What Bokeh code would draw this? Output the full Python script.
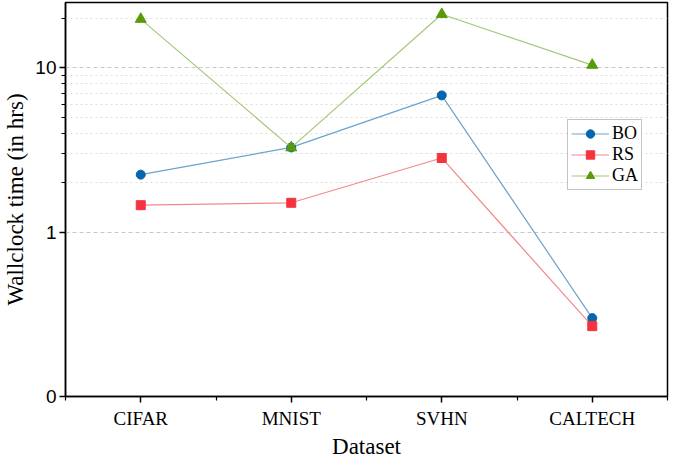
from bokeh.plotting import figure
from bokeh.models import FixedTicker, Range1d, Legend, LegendItem, Title
from bokeh.embed import file_html
from bokeh.resources import INLINE

datasets = ["CIFAR", "MNIST", "SVHN", "CALTECH"]
bo = [2.24, 3.28, 6.8, 0.30]
rs = [1.46, 1.51, 2.83, 0.268]
ga = [19.8, 3.27, 21.2, 10.4]
y_ticks = [0.1, 1, 10]
y_tick_labels = ["0", "1", "10"]
y_minor = [2, 3, 4, 5, 6, 7, 8, 9, 20]

xs = list(range(1, len(datasets) + 1))

p = figure(width=669, height=458, y_axis_type="log", output_backend="svg",
           toolbar_location=None, x_range=Range1d(0.5, 4.5), y_range=Range1d(0.1, 25),
           min_border_left=10, min_border_right=2, min_border_top=2, min_border_bottom=0)

p.background_fill_color = "white"
p.border_fill_color = "white"
p.outline_line_color = "black"
p.outline_line_width = 1.5

# x axis
p.xaxis.ticker = FixedTicker(ticks=xs, minor_ticks=[0.5, 1.5, 2.5, 3.5, 4.5])
p.xaxis.major_label_overrides = {x: d for x, d in zip(xs, datasets)}
p.xgrid.grid_line_color = None

xtitle = Title(text="Dataset", align="center", text_font="Liberation Serif",
               text_font_size="23px", text_font_style="normal", text_color="black",
               standoff=0, offset=0)
p.add_layout(xtitle, "below")

# y axis
p.yaxis.ticker = FixedTicker(ticks=y_ticks, minor_ticks=y_minor)
p.yaxis.major_label_overrides = {t: l for t, l in zip(y_ticks, y_tick_labels)}
p.yaxis.axis_label = "Wallclock time (in hrs)"

for ax in [p.xaxis[0], p.yaxis[0]]:
    ax.axis_line_color = "black"
    ax.axis_line_width = 1.5
    ax.major_tick_line_color = "black"
    ax.major_tick_line_width = 1.5
    ax.major_tick_out = 6
    ax.major_tick_in = 0
    ax.minor_tick_line_color = "black"
    ax.minor_tick_line_width = 1.2
    ax.minor_tick_out = 4
    ax.minor_tick_in = 0
    ax.axis_label_text_font = "Liberation Serif"
    ax.axis_label_text_font_style = "normal"
    ax.axis_label_text_font_size = "23px"
    ax.axis_label_text_color = "black"
    ax.major_label_text_color = "black"

p.xaxis.major_label_text_font = "Liberation Serif"
p.xaxis.major_label_text_font_size = "19px"
p.xaxis.major_label_standoff = 5
p.yaxis.major_label_text_font = "Liberation Sans"
p.yaxis.major_label_text_font_size = "19px"
p.yaxis.major_label_standoff = 3
p.yaxis.axis_label_standoff = 4

p.ygrid.grid_line_color = "#c8c8c8"
p.ygrid.grid_line_dash = "4 3"
p.ygrid.grid_line_width = 1
p.ygrid.minor_grid_line_color = "#dcdcdc"
p.ygrid.minor_grid_line_dash = "2 3"
p.ygrid.minor_grid_line_width = 1

series = [
    ("BO", bo, "#0565ad", "#6ba3cc", "circle", 9),
    ("RS", rs, "#f5333f", "#f08a8a", "square", 9),
    ("GA", ga, "#5a9a0a", "#a5c877", "triangle", 11),
]
items = []
for name, vals, mcol, lcol, marker, size in series:
    l = p.line(xs, vals, line_color=lcol, line_width=1.2)
    s = p.scatter(xs, vals, marker=marker, size=size, fill_color=mcol, line_color=mcol)
    items.append(LegendItem(label=name, renderers=[l, s]))

legend = Legend(items=items, location=(502, 206))
legend.label_text_font = "Liberation Serif"
legend.label_text_font_size = "18px"
legend.label_text_color = "black"
legend.border_line_color = "#888888"
legend.border_line_width = 1
legend.background_fill_alpha = 1
legend.padding = 3
legend.spacing = 0
legend.margin = 0
legend.glyph_width = 38
legend.glyph_height = 21
legend.label_height = 21
legend.label_standoff = 3
p.add_layout(legend, "center")

open("out.html", "w").write(file_html(p, INLINE))
